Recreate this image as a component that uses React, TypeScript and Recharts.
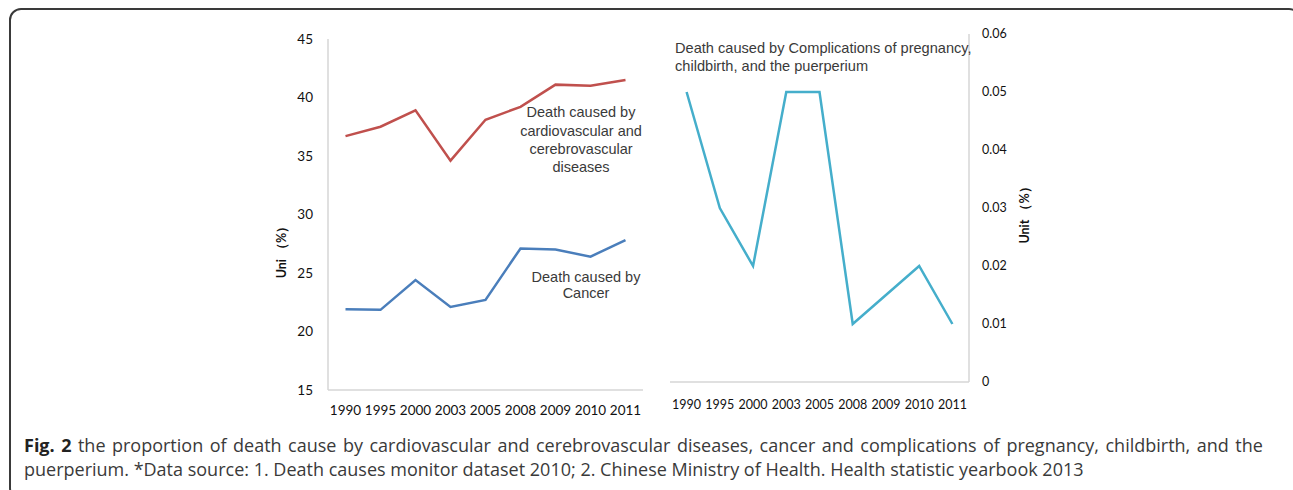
import { LineChart, Line, XAxis, YAxis } from 'recharts';

// years on both x axes
const years = ['1990', '1995', '2000', '2003', '2005', '2008', '2009', '2010', '2011'];

// left panel, unit %
const cardioShare = [36.7, 37.5, 38.9, 34.6, 38.1, 39.2, 41.1, 41.0, 41.5];
const cancerShare = [21.9, 21.85, 24.4, 22.1, 22.7, 27.1, 27.0, 26.4, 27.8];
const leftTicks = [15, 20, 25, 30, 35, 40, 45];

// right panel, unit %
const maternalShare = [0.05, 0.03, 0.02, 0.05, 0.05, 0.01, 0.015, 0.02, 0.01];
const rightTicks = [0, 0.01, 0.02, 0.03, 0.04, 0.05, 0.06];

const leftData = years.map((year, i) => ({ year, cardio: cardioShare[i], cancer: cancerShare[i] }));
const rightData = years.map((year, i) => ({ year, maternal: maternalShare[i] }));

const axisGray = '#d6d6d6';
const tickText = { fontFamily: 'Lato, sans-serif', fontSize: 13.5, fill: '#111' };
const noteFont = 'Liberation Sans, Arial, sans-serif';

export default function App() {
  return (
    <div style={{ position: 'fixed', inset: 0, overflow: 'hidden', background: '#fff' }}>
      {/* figure frame, runs off the right and bottom edge */}
      <div
        style={{
          position: 'absolute',
          left: 9,
          top: 8,
          width: 1292,
          height: 492,
          border: '2px solid #3a3a3a',
          borderRadius: 12,
          boxSizing: 'border-box',
        }}
      />

      <div style={{ position: 'absolute', left: 230, top: 10 }}>
        <LineChart width={450} height={420} data={leftData} margin={{ top: 29, right: 37, bottom: 10, left: 60 }}>
          <XAxis
            dataKey="year"
            interval={0}
            height={30}
            padding={{ left: 17.5, right: 17.5 }}
            tickLine={false}
            tickSize={0}
            tickMargin={15}
            axisLine={{ stroke: axisGray, strokeWidth: 1.5 }}
            tick={tickText}
          />
          <YAxis
            domain={[15, 45]}
            ticks={leftTicks}
            interval={0}
            width={38}
            tickLine={false}
            tickSize={0}
            tickMargin={15}
            axisLine={{ stroke: axisGray, strokeWidth: 1.5 }}
            tick={tickText}
          />
          <Line type="linear" dataKey="cardio" stroke="#c0504d" strokeWidth={2.5} dot={false} isAnimationActive={false} />
          <Line type="linear" dataKey="cancer" stroke="#4a7ebb" strokeWidth={2.5} dot={false} isAnimationActive={false} />
        </LineChart>
      </div>

      <div style={{ position: 'absolute', left: 640, top: 10 }}>
        <LineChart width={420} height={410} data={rightData} margin={{ top: 24, right: 41, bottom: 8, left: 30 }}>
          <XAxis
            dataKey="year"
            interval={0}
            height={30}
            padding={{ left: 16.6, right: 16.6 }}
            tickLine={false}
            tickSize={0}
            tickMargin={18}
            axisLine={{ stroke: axisGray, strokeWidth: 1.5 }}
            tick={{ ...tickText, fontSize: 12.5 }}
          />
          <YAxis
            orientation="right"
            domain={[0, 0.06]}
            ticks={rightTicks}
            interval={0}
            width={50}
            tickLine={false}
            tickSize={0}
            tickMargin={13}
            axisLine={{ stroke: axisGray, strokeWidth: 1.5 }}
            tick={{ ...tickText, fontSize: 12.5, textAnchor: 'start' }}
            tickFormatter={(v: number) => (v === 0 ? '0' : v.toFixed(2))}
          />
          <Line type="linear" dataKey="maternal" stroke="#45aecb" strokeWidth={2.5} dot={false} isAnimationActive={false} />
        </LineChart>
      </div>

      {/* annotations and axis titles */}
      <svg width={1293} height={490} style={{ position: 'absolute', left: 0, top: 0, pointerEvents: 'none' }}>
        <g fontFamily={noteFont} fontSize={14.5} fill="#3a3a3a" textAnchor="middle" dominantBaseline="central">
          <text x={581} y={112}>Death caused by</text>
          <text x={581} y={130.5}>cardiovascular and</text>
          <text x={581} y={149}>cerebrovascular</text>
          <text x={581} y={167}>diseases</text>
          <text x={586} y={277}>Death caused by</text>
          <text x={586} y={293}>Cancer</text>
        </g>
        <g fontFamily={noteFont} fontSize={14.6} fill="#3a3a3a" dominantBaseline="central">
          <text x={675} y={48}>Death caused by Complications of pregnancy,</text>
          <text x={675} y={66}>childbirth, and the puerperium</text>
        </g>
        <text
          transform="translate(281 249) rotate(-90)"
          textAnchor="middle"
          dominantBaseline="central"
          fontFamily="Lato, sans-serif"
          fontWeight="bold"
          fontSize={12.5}
          fill="#111"
        >
          Uni （%）
        </text>
        <text
          transform="translate(1024 212) rotate(-90)"
          textAnchor="middle"
          dominantBaseline="central"
          fontFamily="Lato, sans-serif"
          fontWeight="bold"
          fontSize={12.5}
          fill="#111"
        >
          Unit （%）
        </text>
      </svg>

      <div
        style={{
          position: 'absolute',
          left: 24,
          top: 433,
          fontFamily: '"Open Sans", sans-serif',
          fontSize: 18,
          lineHeight: '24px',
          color: '#3a3a3a',
          whiteSpace: 'nowrap',
        }}
      >
        <span style={{ wordSpacing: 1.8 }}>
          <b style={{ color: '#222' }}>Fig. 2</b> the proportion of death cause by cardiovascular and cerebrovascular diseases, cancer
          and complications of pregnancy, childbirth, and the
        </span>
        <br />
        puerperium. *Data source: 1. Death causes monitor dataset 2010; 2. Chinese Ministry of Health. Health statistic yearbook 2013
      </div>
    </div>
  );
}
